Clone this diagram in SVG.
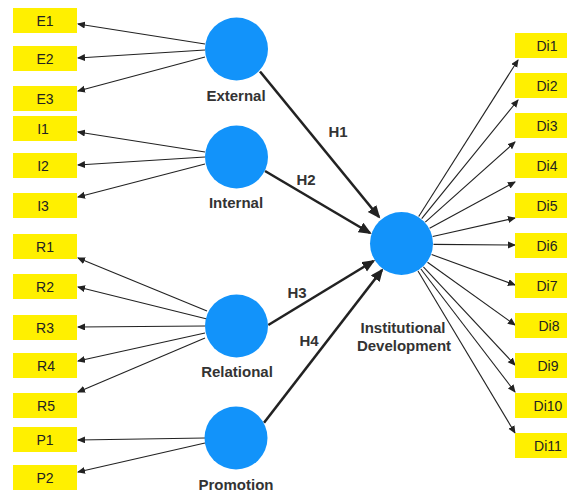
<svg xmlns="http://www.w3.org/2000/svg" width="567" height="495" viewBox="0 0 567 495">
<defs>
<style>
.box{fill:#FFF000;}
.bt{font-family:"Liberation Sans",Arial,sans-serif;font-size:14px;fill:#222;text-anchor:middle;}
.lv{fill:#1293FA;}
.lb{font-family:"Liberation Sans",Arial,sans-serif;font-size:15px;font-weight:bold;fill:#333;text-anchor:middle;}
.thin{stroke:#222;stroke-width:1.1;fill:none;marker-end:url(#ah);}
.thick{stroke:#222;stroke-width:2.6;fill:none;marker-end:url(#ahb);}
</style>
<marker id="ah" markerUnits="userSpaceOnUse" markerWidth="10" markerHeight="8" refX="7" refY="3.5" orient="auto">
<path d="M0,0 L8,3.5 L0,7 z" fill="#222"/>
</marker>
<marker id="ahb" markerUnits="userSpaceOnUse" markerWidth="14" markerHeight="12" refX="11" refY="5.5" orient="auto">
<path d="M0,0 L13,5.5 L0,11 z" fill="#222"/>
</marker>
</defs>
<rect width="567" height="495" fill="#fff"/>

<g id="connectors">
<line class="thin" x1="205" y1="44" x2="78" y2="24"/>
<line class="thin" x1="205" y1="50" x2="78" y2="58"/>
<line class="thin" x1="205" y1="57" x2="78" y2="91"/>
<line class="thin" x1="205" y1="152" x2="78" y2="132"/>
<line class="thin" x1="205" y1="157" x2="78" y2="165"/>
<line class="thin" x1="205" y1="164" x2="78" y2="197"/>
<line class="thin" x1="207" y1="311" x2="78" y2="258"/>
<line class="thin" x1="207" y1="319" x2="78" y2="287"/>
<line class="thin" x1="205" y1="326" x2="78" y2="327"/>
<line class="thin" x1="205" y1="333" x2="78" y2="361"/>
<line class="thin" x1="205" y1="338" x2="78" y2="392"/>
<line class="thin" x1="205" y1="438" x2="78" y2="440"/>
<line class="thin" x1="205" y1="443" x2="78" y2="472"/>

<line class="thin" x1="418.7" y1="216.5" x2="518" y2="60"/>
<line class="thin" x1="421.7" y1="218.7" x2="518" y2="100"/>
<line class="thin" x1="425.3" y1="222.2" x2="515" y2="142"/>
<line class="thin" x1="429.6" y1="228.3" x2="515" y2="182"/>
<line class="thin" x1="432.7" y1="236.5" x2="515" y2="218"/>
<line class="thin" x1="433.5" y1="244.4" x2="515" y2="245"/>
<line class="thin" x1="431.6" y1="254.5" x2="515" y2="285"/>
<line class="thin" x1="427.5" y1="262.2" x2="515" y2="325"/>
<line class="thin" x1="423.4" y1="266.9" x2="515" y2="365"/>
<line class="thin" x1="420.9" y1="269" x2="515" y2="392"/>
<line class="thin" x1="418" y1="271" x2="515" y2="433"/>

<line class="thick" x1="260" y1="71.5" x2="379" y2="217"/>
<line class="thick" x1="265" y1="171" x2="370" y2="233"/>
<line class="thick" x1="268.3" y1="325" x2="373.5" y2="261"/>
<line class="thick" x1="264" y1="422.7" x2="382" y2="270"/>
</g>

<g id="E1"><rect class="box" x="13" y="8" width="64" height="25"/><text class="bt" x="45" y="25.5">E1</text></g>
<g id="E2"><rect class="box" x="13" y="46" width="64" height="25"/><text class="bt" x="45" y="63.5">E2</text></g>
<g id="E3"><rect class="box" x="13" y="86" width="64" height="25"/><text class="bt" x="45" y="103.5">E3</text></g>
<g id="I1"><rect class="box" x="13" y="116" width="64" height="25"/><text class="bt" x="43" y="133.5">I1</text></g>
<g id="I2"><rect class="box" x="13" y="153" width="64" height="25"/><text class="bt" x="43" y="170.5">I2</text></g>
<g id="I3"><rect class="box" x="13" y="193" width="64" height="25"/><text class="bt" x="43" y="210.5">I3</text></g>
<g id="R1"><rect class="box" x="13" y="234" width="64" height="25"/><text class="bt" x="45" y="251.5">R1</text></g>
<g id="R2"><rect class="box" x="13" y="274" width="64" height="25"/><text class="bt" x="45" y="291.5">R2</text></g>
<g id="R3"><rect class="box" x="13" y="315" width="64" height="25"/><text class="bt" x="45" y="332.5">R3</text></g>
<g id="R4"><rect class="box" x="13" y="353" width="64" height="25"/><text class="bt" x="46" y="370.5">R4</text></g>
<g id="R5"><rect class="box" x="13" y="393" width="64" height="25"/><text class="bt" x="46" y="410.5">R5</text></g>
<g id="P1"><rect class="box" x="13" y="427" width="64" height="25"/><text class="bt" x="45" y="444.5">P1</text></g>
<g id="P2"><rect class="box" x="13" y="465" width="64" height="25"/><text class="bt" x="45" y="482.5">P2</text></g>

<g id="Di1"><rect class="box" x="515" y="33" width="52" height="25"/><text class="bt" x="547" y="50.5">Di1</text></g>
<g id="Di2"><rect class="box" x="515" y="73" width="52" height="25"/><text class="bt" x="547" y="90.5">Di2</text></g>
<g id="Di3"><rect class="box" x="515" y="113" width="52" height="25"/><text class="bt" x="547" y="130.5">Di3</text></g>
<g id="Di4"><rect class="box" x="515" y="153" width="52" height="25"/><text class="bt" x="547" y="170.5">Di4</text></g>
<g id="Di5"><rect class="box" x="515" y="193" width="52" height="25"/><text class="bt" x="547" y="210.5">Di5</text></g>
<g id="Di6"><rect class="box" x="515" y="233" width="52" height="25"/><text class="bt" x="547" y="250.5">Di6</text></g>
<g id="Di7"><rect class="box" x="515" y="273" width="52" height="25"/><text class="bt" x="547" y="290.5">Di7</text></g>
<g id="Di8"><rect class="box" x="515" y="313" width="52" height="25"/><text class="bt" x="549" y="330.5">Di8</text></g>
<g id="Di9"><rect class="box" x="515" y="353" width="52" height="25"/><text class="bt" x="548" y="370.5">Di9</text></g>
<g id="Di10"><rect class="box" x="515" y="393" width="52" height="25"/><text class="bt" x="548" y="410.5">Di10</text></g>
<g id="Di11"><rect class="box" x="515" y="433" width="52" height="25"/><text class="bt" x="548" y="450.5">Di11</text></g>

<g id="External"><circle class="lv" cx="236.5" cy="49" r="31.5"/><text class="lb" x="236" y="101">External</text></g>
<g id="Internal"><circle class="lv" cx="236.5" cy="157" r="31.5"/><text class="lb" x="236" y="208">Internal</text></g>
<g id="Relational"><circle class="lv" cx="236.5" cy="326" r="31.5"/><text class="lb" x="237" y="377">Relational</text></g>
<g id="Promotion"><circle class="lv" cx="236" cy="438" r="31.5"/><text class="lb" x="236" y="490">Promotion</text></g>
<g id="InstitutionalDevelopment"><circle class="lv" cx="401.5" cy="243.5" r="31.5"/><text class="lb" x="403" y="333">Institutional</text><text class="lb" x="404" y="351">Development</text></g>

<g id="hypotheses">
<text class="lb" x="338" y="136.5">H1</text>
<text class="lb" x="306" y="184.5">H2</text>
<text class="lb" x="297" y="297.5">H3</text>
<text class="lb" x="309" y="346">H4</text>
</g>
</svg>
